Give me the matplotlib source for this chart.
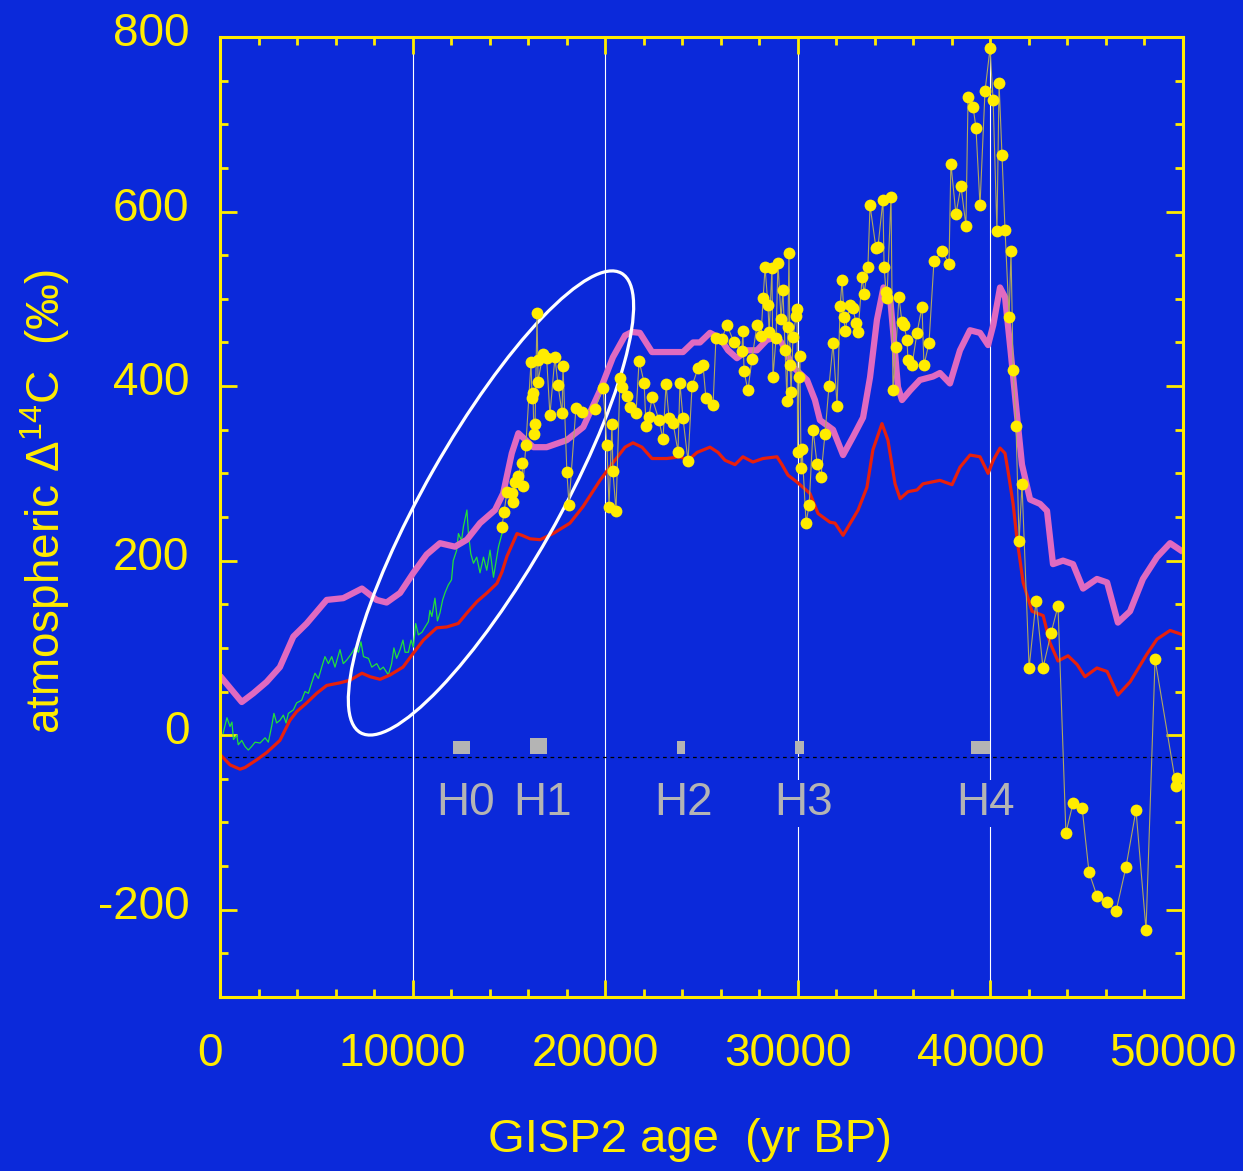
import numpy as np
import matplotlib
matplotlib.use("Agg")
import matplotlib.pyplot as plt
from matplotlib.patches import Ellipse
from matplotlib.transforms import ScaledTranslation

# --- data ---
pink_x = [0, 1130, 1730, 2420, 3110, 3810, 4500, 5540, 6400, 7370, 8130, 8650, 9350, 10040,
          10730, 11420, 12200, 12820, 13500, 14280, 14700, 15150, 15490, 16270, 16960, 18000,
          18860, 19730, 20400, 21030, 21390, 21800, 22430, 23200, 24040, 24560, 24920, 25440,
          25960, 26380, 26840, 27360, 27880, 28400, 28920, 29180, 29750, 30480, 30890, 31150,
          31830, 32350, 32870, 33390, 33750, 34110, 34450, 34790, 35050, 35200, 35410, 35830,
          36340, 37020, 37380, 37900, 38420, 38940, 39460, 39880, 40150, 40500, 40760, 41050,
          41300, 41640, 42060, 42580, 42940, 43250, 43770, 44290, 44810, 45530, 46060, 46620,
          47250, 47920, 48650, 49330, 50000]
pink_y = [68, 38, 48, 61, 78, 113, 128, 155, 157, 168, 155, 152, 163, 186,
          207, 220, 216, 224, 243, 258, 277, 323, 346, 330, 330, 338,
          353, 395, 433, 458, 462, 461, 439, 439, 439, 450, 450, 461,
          455, 441, 432, 441, 441, 453, 456, 449, 422, 407, 384, 361,
          350, 321, 342, 364, 410, 476, 513, 502, 438, 399, 384, 395,
          407, 411, 415, 403, 441, 464, 461, 447, 470, 513, 502, 440,
          384, 310, 270, 265, 257, 196, 200, 196, 168, 179, 175, 129,
          142, 179, 204, 220, 210]

red_x = [0, 520, 1040, 1300, 1920, 2420, 3110, 3630, 3980, 4500, 5020, 5540, 6230, 6750, 7370,
         7790, 8310, 8830, 9500, 10040, 10560, 11250, 11770, 12370, 12820, 13340, 13860, 14380,
         14640, 14900, 15420, 15680, 16100, 16620, 17290, 18170, 18850, 19730, 20400, 21030,
         21440, 21910, 22430, 23200, 23880, 24300, 24770, 25440, 25860, 26220, 26740, 27150,
         27670, 28190, 28920, 29180, 29490, 29960, 30630, 31050, 31670, 31930, 32350, 33130,
         33590, 33900, 34370, 34680, 35050, 35310, 35720, 36190, 36500, 37380, 38010, 38420,
         38940, 39460, 39880, 40150, 40500, 40760, 40920, 41180, 41380, 41700, 42160, 42740,
         43090, 43510, 44030, 44500, 44910, 45530, 46060, 46620, 47250, 48130, 48650, 49330, 50000]
red_y = [-22, -34, -39, -37, -28, -20, -6, 17, 27, 37, 48, 57, 60, 63, 71,
         67, 64, 69, 78, 94, 109, 123, 124, 128, 140, 153, 163, 174,
         187, 205, 231, 229, 225, 224, 231, 243, 262, 292, 312, 330,
         335, 330, 317, 317, 319, 315, 324, 330, 324, 315, 310, 319,
         313, 317, 319, 310, 298, 290, 277, 254, 244, 243, 229, 258,
         284, 327, 357, 338, 288, 271, 279, 281, 288, 292, 287, 307,
         321, 319, 300, 315, 329, 323, 302, 265, 225, 175, 142, 137,
         106, 85, 91, 81, 67, 77, 73, 46, 61, 93, 110, 120, 115]

green_x = [160, 360, 520, 620, 700, 870, 950, 1130, 1300, 1470, 1640, 1820, 2080, 2340, 2510,
           2680, 2800, 2940, 3110, 3290, 3430, 3550, 3810, 3980, 4240, 4410, 4590, 4760, 4930,
           5110, 5280, 5450, 5630, 5800, 5970, 6230, 6400, 6580, 6840, 7010, 7190, 7320, 7450,
           7710, 7880, 8140, 8310, 8480, 8740, 8910, 9030, 9170, 9350, 9500, 9610, 9780, 9920,
           10040, 10160, 10300, 10490, 10650, 10820, 10900, 11000, 11160, 11290, 11420, 11560,
           11680, 11850, 12020, 12110, 12290, 12380, 12540, 12640, 12820, 12900, 13020, 13160,
           13330, 13500, 13680, 13850, 14020, 14200, 14370, 14460, 14640, 14850]
green_y = [2, 20, 10, 15, -5, 0, -11, -6, -13, -17, -13, -8, -9, -3, -8,
           10, 25, 14, 17, 23, 14, 25, 29, 37, 40, 50, 48, 60, 71,
           65, 78, 90, 82, 90, 78, 98, 82, 86, 94, 100, 95, 107, 90,
           88, 78, 82, 75, 78, 69, 82, 100, 88, 98, 109, 95, 95, 109,
           101, 128, 115, 118, 124, 130, 143, 136, 157, 131, 140, 155,
           163, 172, 178, 200, 212, 231, 223, 239, 258, 231, 208, 197,
           204, 186, 204, 189, 212, 181, 204, 216, 231, 240]

dots_x = [14640, 14750, 14900, 15160, 15210, 15320, 15470, 15680, 15730, 15880, 16150, 16200,
          16250, 16300, 16360, 16460, 16500, 16510, 16770, 16960, 17130, 17390, 17550, 17760,
          17810, 18010, 18120, 18480, 18800, 19470, 19890, 20090, 20200, 20350, 20400, 20560,
          20770, 20850, 21130, 21290, 21600, 21760, 22020, 22120, 22270, 22430, 22790, 23000,
          23160, 23310, 23520, 23780, 23880, 24040, 24300, 24510, 24820, 25080, 25230, 25600,
          25750, 26060, 26320, 26690, 27100, 27150, 27210, 27410, 27620, 27880, 28090, 28200,
          28300, 28450, 28510, 28660, 28710, 28870, 28970, 29130, 29230, 29340, 29440, 29490,
          29540, 29600, 29650, 29750, 29910, 29960, 29990, 30060, 30110, 30170, 30220, 30430,
          30590, 30790, 31000, 31200, 31410, 31620, 31830, 32040, 32200, 32300, 32400, 32450,
          32710, 32870, 33020, 33130, 33340, 33440, 33640, 33750, 34060, 34160, 34420, 34480,
          34580, 34630, 34840, 34940, 35100, 35250, 35410, 35510, 35670, 35720, 35930, 36190,
          36450, 36550, 36810, 37070, 37490, 37850, 37950, 38210, 38470, 38730, 38840, 39100,
          39250, 39460, 39720, 39980, 40140, 40340, 40450, 40600, 40760, 40970, 41070, 41180,
          41330, 41490, 41640, 42010, 42370, 42730, 43150, 43510, 43920, 44290, 44760, 45120,
          45530, 46060, 46520, 47040, 47560, 48080, 48550, 49640, 49690]
dots_y = [239, 256, 279, 277, 267, 290, 297, 312, 286, 332, 428, 386,
          392, 345, 357, 484, 430, 405, 437, 432, 367, 433, 401, 369,
          423, 302, 264, 375, 370, 374, 398, 332, 261, 357, 303, 257,
          409, 399, 389, 376, 369, 429, 404, 354, 365, 387, 361, 339,
          402, 364, 358, 325, 403, 363, 314, 400, 421, 424, 386, 378,
          455, 454, 470, 450, 440, 463, 417, 395, 431, 470, 457, 501,
          536, 493, 462, 535, 410, 455, 541, 477, 510, 441, 383, 468,
          553, 424, 393, 456, 480, 488, 325, 410, 435, 306, 328, 243,
          264, 350, 311, 296, 345, 400, 449, 377, 492, 521, 479, 463,
          493, 489, 472, 462, 525, 506, 536, 607, 558, 559, 613, 537,
          508, 501, 617, 395, 445, 502, 473, 470, 453, 430, 424, 461,
          491, 424, 449, 543, 555, 540, 655, 597, 629, 584, 731, 720,
          696, 607, 738, 787, 728, 578, 747, 665, 579, 479, 555, 418,
          354, 222, 288, 77, 154, 77, 117, 148, -112, -78, -83, -157,
          -184, -191, -202, -151, -86, -223, 87, -58, -49]

h_names = ["H0", "H1", "H2", "H3", "H4"]
h_start = [12100, 16100, 23750, 29850, 39000]
h_end = [13000, 17000, 24150, 30300, 40000]
h_top = [-7, -3, -7, -7, -7]
h_label_x = [12770, 16770, 24090, 30320, 39770]

BG = "#0b29da"
YEL = "#ffec00"
FONT = "Liberation Sans"

plt.rcParams["font.family"] = [FONT, "DejaVu Sans"]
plt.rcParams["mathtext.fontset"] = "custom"
plt.rcParams["mathtext.rm"] = FONT
plt.rcParams["axes.unicode_minus"] = False

fig = plt.figure(figsize=(12.43, 11.71), dpi=100, facecolor=BG)
W, H = 1243, 1171
ax = fig.add_axes([220 / W, 1 - 997 / H, 963 / W, 960 / H], facecolor=BG)

ax.set_xlim(0, 50000)
ax.set_ylim(-300, 800)

for xv in [10000, 20000, 30000, 40000]:
    ax.axvline(xv, color="white", lw=0.8, zorder=1)
ax.axhline(-25, color="black", lw=0.9, ls=(0, (3, 3)), zorder=1.5)

ax.bar(h_start, [t + 22 for t in h_top], width=[e - s for s, e in zip(h_start, h_end)],
       bottom=-22, align="edge", color="#b4b4b4", zorder=2)
for name, xv in zip(h_names, h_label_x):
    ax.text(xv, -78, name, color="#b4b4b4", fontsize=33, ha="center", va="center",
            zorder=2.5, bbox=dict(facecolor=BG, edgecolor="none", pad=1))

ax.plot(green_x, green_y, color="#22e03a", lw=0.9, zorder=3)
ax.plot(red_x, red_y, color="#e8200c", lw=2.3, zorder=3, solid_joinstyle="round")
ax.plot(pink_x, pink_y, color="#e06ac0", lw=4.5, zorder=4, solid_capstyle="butt",
        solid_joinstyle="round")

ell = Ellipse((0.2814, 0.5146), 0.55, 0.138, angle=60.5, transform=ax.transAxes,
              fill=False, edgecolor="white", lw=2.3, zorder=5)
ax.add_patch(ell)

ax.plot(dots_x, dots_y, color="#b0a860", lw=0.8, zorder=6)
ax.plot(dots_x, dots_y, ls="none", marker="o", ms=8.5, mfc=YEL, mec="none", zorder=7)

for sp in ax.spines.values():
    sp.set_color(YEL)
    sp.set_linewidth(2.2)
    sp.set_zorder(8)

ax.set_xticks(np.arange(0, 50001, 10000))
ax.set_xticks(np.arange(0, 50001, 2000), minor=True)
ax.set_yticks(np.arange(-200, 801, 200))
ax.set_yticks(np.arange(-300, 801, 50), minor=True)
ax.tick_params(which="both", direction="in", top=True, right=True, color=YEL,
               labelcolor=YEL, labelsize=33, width=2.0)
ax.tick_params(which="major", length=12)
ax.tick_params(which="minor", length=6)
ax.tick_params(axis="x", which="major", pad=25)
ax.tick_params(axis="y", which="major", pad=22)

for lab in ax.get_xticklabels():
    lab.set_transform(lab.get_transform() + ScaledTranslation(-0.10, 0, fig.dpi_scale_trans))
for lab in ax.get_yticklabels():
    lab.set_transform(lab.get_transform() + ScaledTranslation(0, 0.08, fig.dpi_scale_trans))

fig.text(690 / W, 1 - 1140 / H, "GISP2 age  (yr BP)", color=YEL, fontsize=34,
         ha="center", va="center")
fig.text(45 / W, 1 - 502 / H, "atmospheric \u0394$^{\\mathregular{14}}$C  (\u2030)", color=YEL,
         fontsize=33, ha="center", va="center", rotation=90)

fig.savefig("out.png", dpi=100, facecolor=BG)
